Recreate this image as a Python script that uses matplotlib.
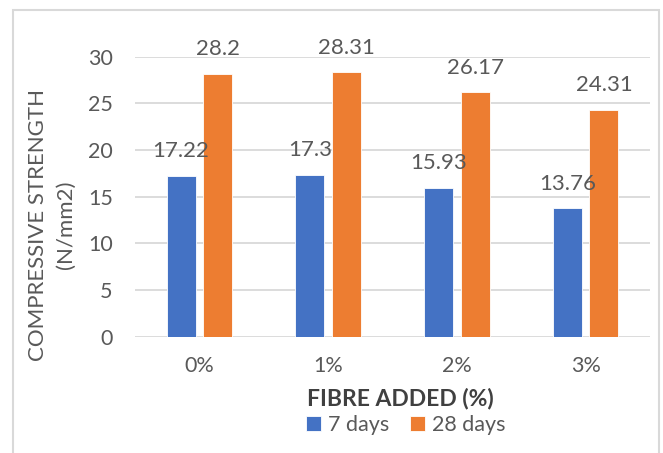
import matplotlib.pyplot as plt
import numpy as np
from matplotlib.patches import Rectangle

plt.rcParams['font.family'] = ['Lato', 'DejaVu Sans']

fibre = ["0%", "1%", "2%", "3%"]
days7 = [17.22, 17.3, 15.93, 13.76]
days28 = [28.2, 28.31, 26.17, 24.31]

text_col = "#595959"
grid_col = "#D9D9D9"

fig = plt.figure(figsize=(6.63, 4.53), dpi=100)
ax = fig.add_axes([0.2036, 0.2567, 0.7768, 0.6181])

x = np.arange(len(fibre))
off, w = 0.142, 0.225
b1 = ax.bar(x - off, days7, w, color="#4472C4", edgecolor="white", linewidth=0.6,
            label="7 days", zorder=3)
b2 = ax.bar(x + off, days28, w, color="#ED7D31", edgecolor="white", linewidth=0.6,
            label="28 days", zorder=3)

for bars, vals in ((b1, days7), (b2, days28)):
    for rect, v in zip(bars, vals):
        ax.annotate(f"{v:g}", (rect.get_x() + rect.get_width() / 2, v),
                    xytext=(0, 13.5), textcoords="offset points",
                    ha="center", va="baseline", fontsize=16, color=text_col,
                    annotation_clip=False)

ax.set_xlim(-0.5, 3.5)
ax.set_ylim(0, 30)
ax.set_yticks(range(0, 31, 5))
ax.set_xticks(x)
ax.set_xticklabels(fibre)
ax.yaxis.grid(True, color=grid_col, linewidth=1.3, zorder=0)
ax.set_axisbelow(True)
for s in ax.spines.values():
    s.set_visible(False)
ax.tick_params(axis="both", length=0, labelsize=15.5, labelcolor=text_col)
ax.tick_params(axis="y", pad=16)
ax.tick_params(axis="x", pad=14)

fig.text(0.0784, 0.503, "COMPRESSIVE STRENGTH\n(N/mm2)", rotation=90,
         ha="center", va="center", fontsize=16, color=text_col,
         multialignment="center", linespacing=1.5)
fig.text(0.604, 0.121, "FIBRE ADDED (%)", ha="center", va="center",
         fontsize=16.5, fontweight="bold", color="#404040")
fig.legend(handles=[b1, b2], loc="center", bbox_to_anchor=(0.612, 0.062),
           ncol=2, frameon=False, fontsize=15.5, labelcolor=text_col,
           handlelength=0.7, handleheight=0.7, handletextpad=0.3,
           columnspacing=1.0, borderpad=0)

# light frame round the chart area
fig.patches.append(Rectangle((13 / 663, -0.02), 646 / 663, 1 - 10 / 453 + 0.02,
                             transform=fig.transFigure, fill=False,
                             edgecolor=grid_col, linewidth=1.5))

fig.savefig("out.png", dpi=100)
